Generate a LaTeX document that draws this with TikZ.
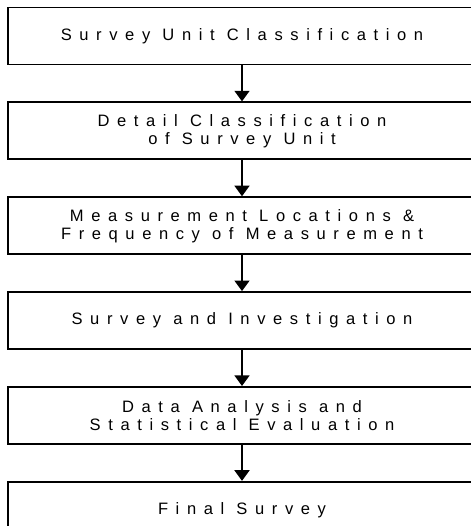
\documentclass[tikz,border=0pt]{standalone}
\usepackage{fontspec}
\setmainfont{Liberation Sans}
\newfontfamily\spacedfont{Liberation Sans}[LetterSpace=46]
\usetikzlibrary{arrows.meta, positioning}

\begin{document}
\begin{tikzpicture}[x=0.75pt, y=0.75pt, node distance=27pt,
  every node/.style={font=\spacedfont\fontsize{12.4pt}{13.5pt}\selectfont, align=center},
  stage/.style={rectangle, draw, line width=1.4pt, minimum width=351pt, minimum height=42.75pt, inner sep=0pt},
  flow/.style={-{Triangle[width=11pt, length=8pt]}, line width=2.2pt}]
\useasboundingbox (0,0) rectangle (471,-526);
\clip (0,0) rectangle (471,-526);

\node (unit) [stage] at (242,-36) {Survey Unit Classification};
\node (detail) [stage, below=of unit] {Detail Classification \\ of Survey Unit};
\node (locations) [stage, below=of detail] {Measurement Locations \& \\ Frequency of Measurement};
\node (investigation) [stage, below=of locations] {Survey and Investigation};
\node (analysis) [stage, below=of investigation] {Data Analysis and \\ Statistical Evaluation};
\node (final) [stage, below=of analysis] {Final Survey};

\draw[flow] (unit) -- (detail);
\draw[flow] (detail) -- (locations);
\draw[flow] (locations) -- (investigation);
\draw[flow] (investigation) -- (analysis);
\draw[flow] (analysis) -- (final);
\end{tikzpicture}
\end{document}
